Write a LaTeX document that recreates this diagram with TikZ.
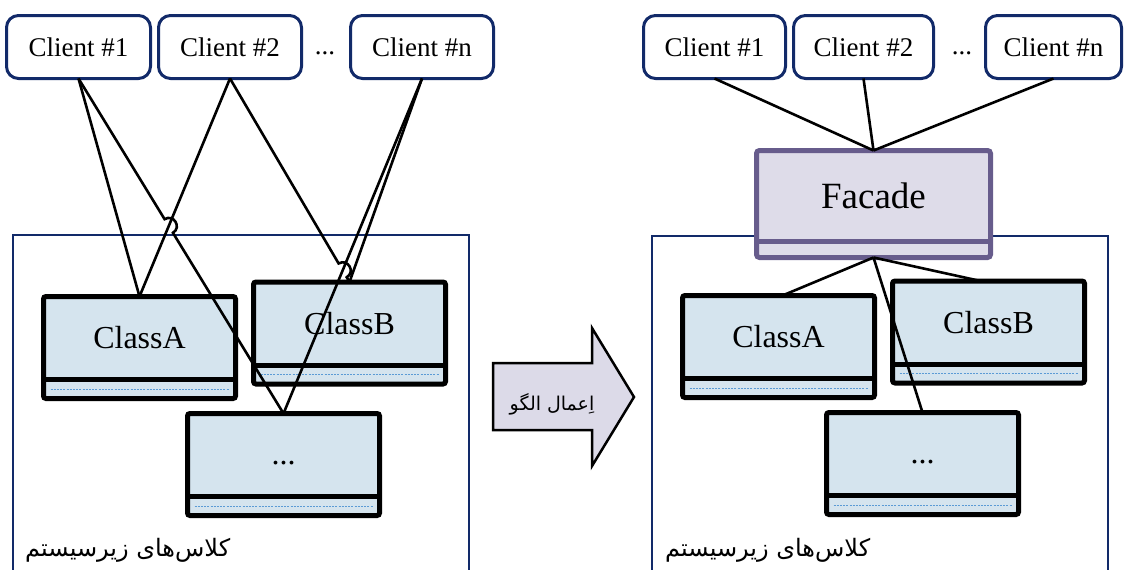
\documentclass[tikz,border=0pt]{standalone}
\usepackage{fontspec}
\setmainfont{Liberation Serif}
\newfontfamily\fa[Script=Arabic]{DejaVu Sans}
\TeXXeTstate=1
\usetikzlibrary{calc,intersections}
\definecolor{navy}{RGB}{18,42,105}
\definecolor{clsfill}{RGB}{213,228,238}
\definecolor{dashblue}{RGB}{91,155,213}
\definecolor{facborder}{RGB}{103,92,140}
\definecolor{facfill}{RGB}{222,220,233}
\definecolor{arrfill}{RGB}{220,218,232}
\tikzset{
  client/.style={draw=navy, line width=3pt, rounded corners=12pt, fill=white,
    minimum height=63pt, inner sep=0pt, outer sep=0pt, font=\fontsize{27}{30}\selectfont},
  clsbox/.style={draw=black, line width=5pt, fill=clsfill, rounded corners=2.5pt,
    minimum width=192pt, minimum height=102pt, inner sep=0pt, outer sep=0pt},
  clstext/.style={font=\fontsize{32}{36}\selectfont, inner sep=0pt},
  sepln/.style={line width=5pt},
  dashln/.style={draw=dashblue, line width=1pt, dash pattern=on 2pt off 1.2pt},
  link/.style={line width=2.6pt, draw=black},
  subsys/.style={draw=navy, line width=2pt, anchor=north west, minimum width=456pt,
    minimum height=345pt, inner sep=0pt, outer sep=0pt},
  dots/.style={font=\fontsize{27}{30}\selectfont, inner sep=0pt},
  sublabel/.style={anchor=west, inner sep=0pt, font=\fa\fontsize{24}{28}\selectfont},
}
\newcommand\mkcls[4][0pt]{%
  \node[clsbox] (#2) at (#3) {};
  \draw[sepln] ([yshift=19pt]#2.south west) -- ([yshift=19pt]#2.south east);
  \draw[dashln] ([xshift=7pt,yshift=9.5pt]#2.south west) -- ([xshift=-7pt,yshift=9.5pt]#2.south east);
  \node[clstext, yshift=#1] (#2t) at ($(#2.north)!0.5!([yshift=19pt]#2.south)$) {#4};
}
\newcommand\hopline[4]{% start, end, crossing-start, crossing-end
  \path[name path=hpA] (#1) -- (#2);
  \path[name path=hpB] (#3) -- (#4);
  \path[name intersections={of=hpA and hpB, by=hpX}];
  \draw[link] (#1) -- ($(hpX)!8pt!(#1)$) to[bend left=90, looseness=1.7] ($(hpX)!8pt!(#2)$) -- (#2);
}
\begin{document}
\begin{tikzpicture}[x=1pt,y=-1pt]
\useasboundingbox (0,0) rectangle (1125,570);
\clip (0,0) rectangle (1125,570);

% subsystem containers
\node[subsys] (lsys) at (13,235) {};
\node[subsys] (rsys) at (652,236) {};

% ===== left side =====
\node[client, minimum width=144pt] (lc1) at (78.5,47) {Client \#1};
\node[client, minimum width=143pt] (lc2) at (230,47) {Client \#2};
\node[dots] (ldots) at (325,53) {...};
\node[client, minimum width=143pt] (lcn) at (422,47) {Client \#n};

\mkcls{lca}{139.5,347.5}{ClassA}
\mkcls{lcb}{349.5,333}{ClassB}
\mkcls[-8pt]{ld}{283.5,464.5}{...}

\draw[link] (lc1.south) -- (lca.north);
\draw[link] (lc2.south) -- (lca.north);
\hopline{lc1.south}{ld.north}{lc2.south}{lca.north}
\hopline{lc2.south}{lcb.north}{lcn.south}{ld.north}
\draw[link] (lcn.south) -- (lcb.north);
\draw[link] (lcn.south) -- (ld.north);

\node[sublabel] (lsub) at (25,550) {\beginR کلاس‌های زیرسیستم\endR};

% ===== arrow =====
\draw[line width=2.5pt, fill=arrfill, line join=miter]
  (493,363) -- (592,363) -- (592,328) -- (634,397) -- (592,466) -- (592,430) -- (493,430) -- cycle;
\node[inner sep=0pt, font=\fa\fontsize{19}{23}\selectfont] (arrtxt) at (552,404) {\beginR اِعمال الگو\endR};

% ===== right side =====
\node[client, minimum width=142pt] (rc1) at (714.5,47) {Client \#1};
\node[client, minimum width=140pt] (rc2) at (863.5,47) {Client \#2};
\node[dots] (rdots) at (962,53) {...};
\node[client, minimum width=136pt] (rcn) at (1053.5,47) {Client \#n};

\node[draw=facborder, line width=5pt, fill=facfill, rounded corners=3pt, minimum width=234pt,
  minimum height=107pt, inner sep=0pt, outer sep=0pt] (fac) at (873.5,204) {};
\draw[sepln, draw=facborder] ([yshift=16.5pt]fac.south west) -- ([yshift=16.5pt]fac.south east);
\node[inner sep=0pt, font=\fontsize{37}{40}\selectfont] (fact) at ($(fac.north)!0.5!([yshift=16.5pt]fac.south)$) {Facade};

\mkcls{rca}{778.5,346.5}{ClassA}
\mkcls{rcb}{988.5,332}{ClassB}
\mkcls[-8pt]{rd}{922.5,463.5}{...}

\draw[link] (rc1.south) -- (fac.north);
\draw[link] (rc2.south) -- (fac.north);
\draw[link] (rcn.south) -- (fac.north);
\draw[link] (fac.south) -- ([xshift=4pt]rca.north);
\draw[link] (fac.south) -- ([xshift=-8pt]rcb.north);
\draw[link] (fac.south) -- (rd.north);

\node[sublabel] (rsub) at (665,550) {\beginR کلاس‌های زیرسیستم\endR};
\end{tikzpicture}
\end{document}
